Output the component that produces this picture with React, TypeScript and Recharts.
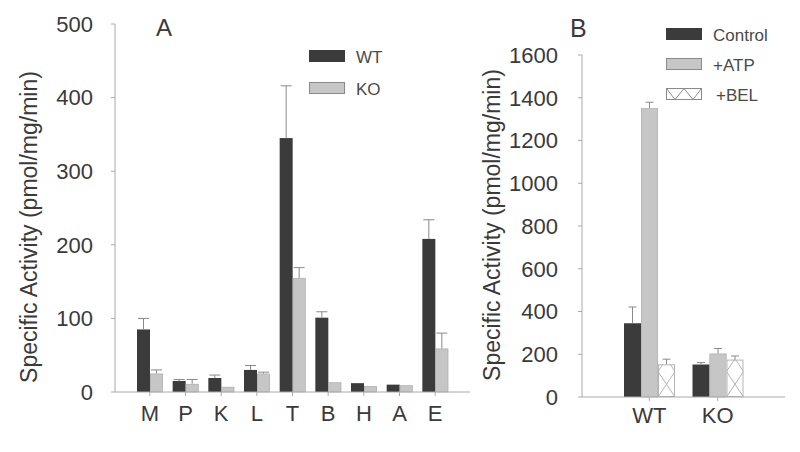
import * as React from 'react';
import { BarChart, Bar, XAxis, YAxis, Legend, Label } from 'recharts';

// panel A: tissue activity
const tissues = ['M', 'P', 'K', 'L', 'T', 'B', 'H', 'A', 'E'];
const wtValues = [85, 15, 19, 30, 345, 101, 12, 10, 208];
const wtErrors = [15, 2, 4, 6, 71, 8, 0, 0, 26];
const koValues = [25, 11, 7, 25, 155, 13, 8, 9, 59];
const koErrors = [5, 6, 0, 2, 14, 0, 0, 0, 21];
const ticksA = [0, 100, 200, 300, 400, 500];

// panel B: treatments
const genotypes = ['WT', 'KO'];
const controlValues = [345, 152];
const controlErrors = [76, 9];
const atpValues = [1351, 203];
const atpErrors = [28, 24];
const belValues = [153, 175];
const belErrors = [24, 17];
const ticksB = [0, 200, 400, 600, 800, 1000, 1200, 1400, 1600];

const DARK = '#3b3b3b';
const LIGHT = '#c6c6c6';
const AXIS = '#aaaaaa';
const ERR = '#8a8a8a';
const TEXT = '#3a3a3a';
const FONT = '"Liberation Sans", Arial, sans-serif';

const dataA = tissues.map((t, i) => ({
    name: t,
    wt: wtValues[i],
    wtErr: wtErrors[i],
    ko: koValues[i],
    koErr: koErrors[i],
}));

const dataB = genotypes.map((g, i) => ({
    name: g,
    control: controlValues[i],
    controlErr: controlErrors[i],
    atp: atpValues[i],
    atpErr: atpErrors[i],
    bel: belValues[i],
    belErr: belErrors[i],
}));

const tickStyle = { fontSize: 22, fill: TEXT, fontFamily: FONT };

// bar with a one-sided error bar; the error length is scaled from the bar's own height
function barShape(valueKey: string, errKey: string, kind: 'dark' | 'light' | 'bel', cap: number) {
    return function Shape(props: any) {
        const { x, y, width, height, payload, index } = props;
        if (!height || height <= 0) return null;
        const value = payload[valueKey];
        const err = payload[errKey];
        const errPx = value ? (err / value) * height : 0;
        const cx = x + width / 2;
        let body;
        if (kind === 'dark') {
            body = <rect x={x} y={y} width={width} height={height} fill={DARK} />;
        } else if (kind === 'light') {
            body = (
                <rect x={x + 0.3} y={y + 0.3} width={width - 0.6} height={height - 0.3} fill={LIGHT} stroke="#a5a5a5" strokeWidth={0.6} />
            );
        } else {
            const id = 'bel-clip-' + index;
            const cell = width * 1.5;
            const a: string[] = [];
            const b: string[] = [];
            for (let k = 0; k * cell <= height + cell; k++) {
                const yy = y + height - k * cell;
                a.push((k % 2 ? x + width : x) + ',' + yy);
                b.push((k % 2 ? x : x + width) + ',' + yy);
            }
            body = (
                <g>
                    <defs>
                        <clipPath id={id}>
                            <rect x={x} y={y} width={width} height={height} />
                        </clipPath>
                    </defs>
                    <rect x={x} y={y} width={width} height={height} fill="#fff" />
                    <g clipPath={'url(#' + id + ')'}>
                        <polyline points={a.join(' ')} fill="none" stroke="#b5b5b5" strokeWidth={1} />
                        <polyline points={b.join(' ')} fill="none" stroke="#b5b5b5" strokeWidth={1} />
                    </g>
                    <rect x={x + 0.5} y={y + 0.5} width={width - 1} height={height - 1} fill="none" stroke="#b5b5b5" strokeWidth={1} />
                </g>
            );
        }
        return (
            <g>
                {body}
                {errPx > 0 && (
                    <g stroke={ERR} strokeWidth={1}>
                        <line x1={cx} y1={y} x2={cx} y2={y - errPx} />
                        <line x1={cx - cap / 2} y1={y - errPx} x2={cx + cap / 2} y2={y - errPx} />
                    </g>
                )}
            </g>
        );
    };
}

interface LegendItem {
    label: string;
    kind: 'dark' | 'light' | 'bel';
}

const legendA: LegendItem[] = [
    { label: 'WT', kind: 'dark' },
    { label: 'KO', kind: 'light' },
];
const legendB: LegendItem[] = [
    { label: 'Control', kind: 'dark' },
    { label: '+ATP', kind: 'light' },
    { label: '+BEL', kind: 'bel' },
];

function makeLegend(items: LegendItem[], rowGap: number) {
    return function LegendBox() {
        const w = 36;
        const h = 12;
        return (
            <svg width={140} height={items.length * rowGap} style={{ display: 'block' }}>
                {items.map((it, i) => {
                    const top = i * rowGap + 1;
                    let icon;
                    if (it.kind === 'dark') {
                        icon = <rect x={1} y={top} width={w} height={h} fill={DARK} />;
                    } else if (it.kind === 'light') {
                        icon = <rect x={1.5} y={top + 0.5} width={w - 1} height={h - 1} fill={LIGHT} stroke="#8a8a8a" strokeWidth={1} />;
                    } else {
                        icon = (
                            <g>
                                <rect x={1.5} y={top + 0.5} width={w - 1} height={h - 1} fill="#fff" stroke="#8a8a8a" strokeWidth={1} />
                                <polyline
                                    points={[
                                        [1.5, top + 0.5],
                                        [1 + w / 4, top + h - 0.5],
                                        [1 + w / 2, top + 0.5],
                                        [1 + (3 * w) / 4, top + h - 0.5],
                                        [w + 0.5, top + 0.5],
                                    ]
                                        .map(p => p.join(','))
                                        .join(' ')}
                                    fill="none"
                                    stroke="#8a8a8a"
                                    strokeWidth={1}
                                />
                            </g>
                        );
                    }
                    return (
                        <g key={it.label}>
                            {icon}
                            <text
                                x={w + 12 + (it.kind === 'bel' ? 3 : 0)}
                                y={top + h / 2 + 1}
                                dominantBaseline="central"
                                fontSize={17}
                                fill="#4a4a4a"
                                fontFamily={FONT}
                            >
                                {it.label}
                            </text>
                        </g>
                    );
                })}
            </svg>
        );
    };
}

function yLabel(cx: number, cy: number) {
    return function YLabel() {
        return (
            <text
                x={cx}
                y={cy}
                transform={'rotate(-90 ' + cx + ' ' + cy + ')'}
                textAnchor="middle"
                dominantBaseline="central"
                fontSize={23}
                fill={TEXT}
                fontFamily={FONT}
            >
                Specific Activity (pmol/mg/min)
            </text>
        );
    };
}

const LegendA = makeLegend(legendA, 32);
const LegendB = makeLegend(legendB, 30);

export default function App() {
    return (
        <div style={{ position: 'absolute', left: 0, top: 0, width: 800, height: 452, background: '#fff' }}>
            <div style={{ position: 'absolute', left: 0, top: 0 }}>
                <BarChart
                    width={480}
                    height={452}
                    data={dataA}
                    margin={{ top: 24, right: 10, bottom: 0, left: 0 }}
                    barGap={0}
                    barSize={13}
                >
                    <XAxis
                        dataKey="name"
                        height={60}
                        padding={{ left: 17, right: 17 }}
                        tick={tickStyle}
                        tickSize={4}
                        tickMargin={9}
                        stroke={AXIS}
                        tickLine={{ stroke: AXIS }}
                        interval={0}
                    />
                    <YAxis
                        width={115}
                        domain={[0, 500]}
                        ticks={ticksA}
                        tick={tickStyle}
                        tickSize={4}
                        tickMargin={18}
                        stroke={AXIS}
                        tickLine={{ stroke: AXIS }}
                    >
                        <Label content={yLabel(29, 227)} />
                    </YAxis>
                    <Legend
                        layout="horizontal"
                        verticalAlign="middle"
                        align="center"
                        content={LegendA}
                        wrapperStyle={{ left: 308, top: 49, width: 140 }}
                    />
                    <Bar dataKey="wt" name="WT" fill={DARK} shape={barShape('wt', 'wtErr', 'dark', 11)} isAnimationActive={false} />
                    <Bar dataKey="ko" name="KO" fill={LIGHT} shape={barShape('ko', 'koErr', 'light', 11)} isAnimationActive={false} />
                </BarChart>
            </div>
            <div style={{ position: 'absolute', left: 400, top: 0 }}>
                <BarChart
                    width={400}
                    height={452}
                    data={dataB}
                    margin={{ top: 55, right: 15, bottom: 0, left: 0 }}
                    barGap={0}
                    barSize={17}
                >
                    <XAxis
                        dataKey="name"
                        height={55}
                        padding={{ left: 33, right: 33 }}
                        tick={tickStyle}
                        tickSize={4}
                        tickMargin={6}
                        stroke={AXIS}
                        tickLine={{ stroke: AXIS }}
                        interval={0}
                    />
                    <YAxis
                        width={182}
                        domain={[0, 1600]}
                        ticks={ticksB}
                        tick={tickStyle}
                        tickSize={4}
                        tickMargin={20}
                        stroke={AXIS}
                        tickLine={{ stroke: AXIS }}
                    >
                        <Label content={yLabel(92, 225)} />
                    </YAxis>
                    <Legend
                        layout="horizontal"
                        verticalAlign="middle"
                        align="center"
                        content={LegendB}
                        wrapperStyle={{ left: 265, top: 27, width: 140 }}
                    />
                    <Bar dataKey="control" name="Control" fill={DARK} shape={barShape('control', 'controlErr', 'dark', 8)} isAnimationActive={false} />
                    <Bar dataKey="atp" name="+ATP" fill={LIGHT} shape={barShape('atp', 'atpErr', 'light', 8)} isAnimationActive={false} />
                    <Bar dataKey="bel" name="+BEL" fill="#fff" shape={barShape('bel', 'belErr', 'bel', 8)} isAnimationActive={false} />
                </BarChart>
            </div>
            <div style={{ position: 'absolute', left: 156, top: 14, fontSize: 24, fontFamily: FONT, color: TEXT }}>A</div>
            <div style={{ position: 'absolute', left: 570, top: 14, fontSize: 25, fontFamily: FONT, color: TEXT }}>B</div>
        </div>
    );
}
